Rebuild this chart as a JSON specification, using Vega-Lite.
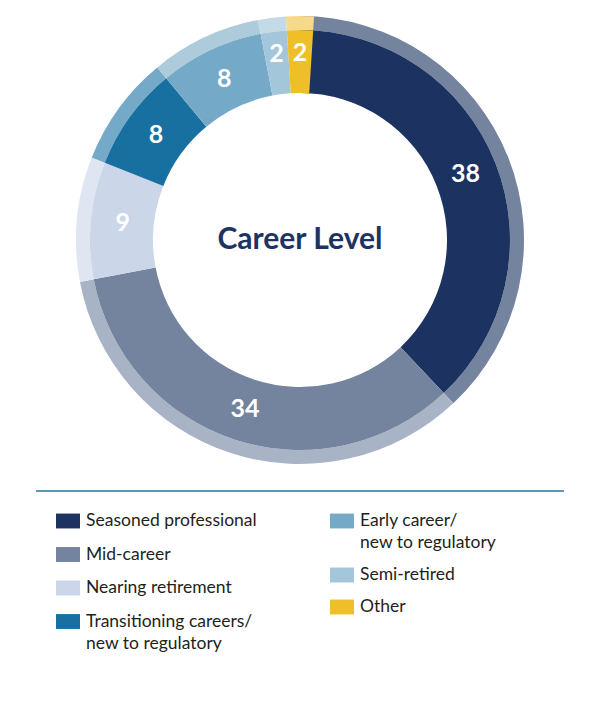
{
  "$schema": "https://vega.github.io/schema/vega-lite/v6.json",
  "padding": 0,
  "bounds": "flush",
  "center": true,
  "spacing": 10,
  "config": {"view": {"stroke": null}, "font": "Lato"},
  "resolve": {"scale": {"color": "independent"}},
  "vconcat": [
    {
      "width": 600,
      "height": 480,
      "data": {
        "values": [
          {"level": "Seasoned professional", "count": 38},
          {"level": "Mid-career", "count": 34},
          {"level": "Nearing retirement", "count": 9},
          {"level": "Transitioning careers/ new to regulatory", "count": 8},
          {"level": "Early career/ new to regulatory", "count": 8},
          {"level": "Semi-retired", "count": 2},
          {"level": "Other", "count": 2}
        ]
      },
      "transform": [
        {"window": [{"op": "sum", "field": "count", "as": "end"}], "frame": [null, 0]},
        {"calculate": "datum.end - datum.count", "as": "start"},
        {"calculate": "(datum.start + datum.end) / 2", "as": "mid"}
      ],
      "resolve": {"scale": {"color": "independent"}},
      "layer": [
        {
          "mark": {"type": "arc", "radius": 224, "radius2": 210},
          "encoding": {
            "theta": {"field": "start", "type": "quantitative", "scale": {"nice": false}},
            "theta2": {"field": "end"},
            "color": {
              "field": "level",
              "type": "nominal",
              "scale": {
                "domain": ["Seasoned professional", "Mid-career", "Nearing retirement", "Transitioning careers/ new to regulatory", "Early career/ new to regulatory", "Semi-retired", "Other"],
                "range": ["#74839e", "#a9b3c6", "#dfe5f1", "#74a9c8", "#aecbdc", "#c4dbe7", "#f6d98a"]
              },
              "legend": null
            }
          }
        },
        {
          "transform": [{"filter": {"field": "level", "oneOf": ["Seasoned professional", "Mid-career", "Nearing retirement", "Transitioning careers/ new to regulatory"]}}],
          "mark": {"type": "arc", "radius": 210, "radius2": 147},
          "encoding": {
            "theta": {"field": "start", "type": "quantitative"},
            "theta2": {"field": "end"},
            "color": {
              "field": "level",
              "type": "nominal",
              "scale": {
                "domain": ["Seasoned professional", "Mid-career", "Nearing retirement", "Transitioning careers/ new to regulatory"],
                "range": ["#1c3260", "#74839e", "#cbd6e8", "#1870a0"]
              },
              "legend": {
                "orient": "none", "legendX": 56, "legendY": 509, "title": null, "padding": 0,
                "symbolType": "M-1,-0.62H1V0.62H-1Z", "symbolSize": 576, "symbolStrokeWidth": 0, "symbolOpacity": 1,
                "labelFont": "Lato", "labelFontSize": 17.5, "labelColor": "#231f20", "labelOffset": 6, "labelLimit": 400,
                "rowPadding": 12.5,
                "labelExpr": "split(replace(datum.label, '/ ', '/|'), '|')",
                "encode": {"labels": {"update": {"lineHeight": {"value": 22}}}}
              }
            }
          }
        },
        {
          "transform": [{"filter": {"field": "level", "oneOf": ["Early career/ new to regulatory", "Semi-retired", "Other"]}}],
          "mark": {"type": "arc", "radius": 210, "radius2": 147},
          "encoding": {
            "theta": {"field": "start", "type": "quantitative"},
            "theta2": {"field": "end"},
            "color": {
              "field": "level",
              "type": "nominal",
              "scale": {
                "domain": ["Early career/ new to regulatory", "Semi-retired", "Other"],
                "range": ["#74a9c8", "#a3c6db", "#efbf2a"]
              },
              "legend": {
                "orient": "none", "legendX": 330, "legendY": 509, "title": null, "padding": 0,
                "symbolType": "M-1,-0.62H1V0.62H-1Z", "symbolSize": 576, "symbolStrokeWidth": 0, "symbolOpacity": 1,
                "labelFont": "Lato", "labelFontSize": 17.5, "labelColor": "#231f20", "labelOffset": 6, "labelLimit": 400,
                "rowPadding": 11,
                "labelExpr": "split(replace(datum.label, '/ ', '/|'), '|')",
                "encode": {"labels": {"update": {"lineHeight": {"value": 22}}}}
              }
            }
          }
        },
        {
          "transform": [{"filter": "datum.count >= 5"}],
          "mark": {"type": "text", "radius": 178, "font": "Lato", "fontWeight": "bold", "fontSize": 25, "color": "#ffffff", "align": "center", "baseline": "middle"},
          "encoding": {
            "theta": {"field": "mid", "type": "quantitative"},
            "text": {"field": "count", "type": "quantitative"}
          }
        },
        {
          "transform": [{"filter": "datum.count < 5"}],
          "mark": {"type": "text", "radius": 187, "font": "Lato", "fontWeight": "bold", "fontSize": 25, "color": "#ffffff", "align": "center", "baseline": "middle"},
          "encoding": {
            "theta": {"field": "mid", "type": "quantitative"},
            "text": {"field": "count", "type": "quantitative"}
          }
        },
        {
          "data": {"values": [{"title": "Career Level"}]},
          "mark": {"type": "text", "font": "Lato", "fontWeight": "bold", "fontSize": 30, "color": "#1d3461", "align": "center", "baseline": "middle"},
          "encoding": {"text": {"field": "title", "type": "nominal"}}
        }
      ]
    },
    {
      "width": 528,
      "height": 2,
      "data": {"values": []},
      "mark": "point",
      "encoding": {},
      "view": {"fill": "#5a97ba", "stroke": null}
    }
  ]
}
